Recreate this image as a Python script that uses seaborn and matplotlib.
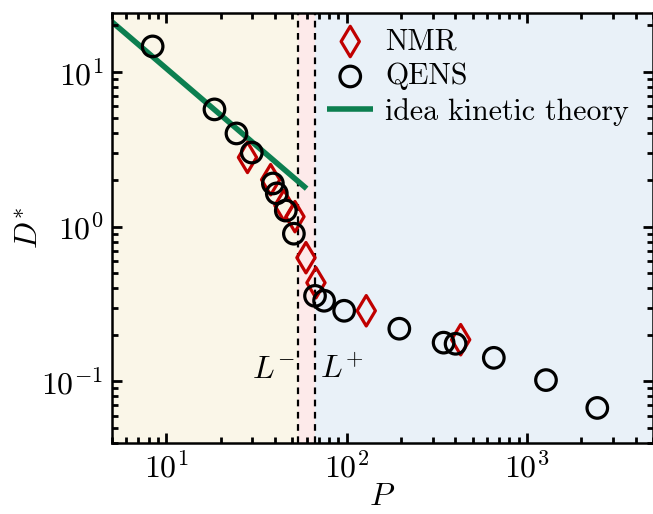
import numpy as np
import pandas as pd
import matplotlib
matplotlib.use("Agg")
import matplotlib.pyplot as plt
import seaborn as sns

# ---- data ----
qens_P = [8.4, 18.5, 24.5, 29.8, 39.0, 41.0, 46.0, 51.0, 66.8, 75.0, 96.9,
          196, 345, 402, 655, 1275, 2455]
qens_D = [14.6, 5.72, 4.0, 3.01, 1.90, 1.64, 1.27, 0.90, 0.357, 0.332, 0.286,
          0.219, 0.178, 0.175, 0.142, 0.102, 0.0674]

nmr_P = [28.2, 37.9, 44.9, 51.7, 59.5, 67.6, 128.5, 429]
nmr_D = [2.80, 2.01, 1.37, 1.16, 0.63, 0.434, 0.286, 0.186]

theory_P = [4.8, 60.0]
theory_D = [21.9, 1.76]

L_minus = 54.0
L_plus = 67.0

x_limits = (5, 5000)
y_limits = (0.04, 24)

# ---- style ----
sns.set_style("ticks")
plt.rcParams["font.family"] = ["serif"]
plt.rcParams["font.serif"] = ["cmr10", "DejaVu Serif"]
plt.rcParams["mathtext.fontset"] = "cm"
plt.rcParams["axes.formatter.use_mathtext"] = True
plt.rcParams["axes.unicode_minus"] = False
for key in ["text.color", "axes.labelcolor", "xtick.color", "ytick.color", "axes.edgecolor"]:
    plt.rcParams[key] = "black"

fig = plt.figure(figsize=(6.53, 5.14), dpi=100)
ax = fig.add_axes([112 / 653, 1 - 443 / 514, (653 - 112) / 653, (443 - 13) / 514])
ax.set_axisbelow(False)

red = "#c00000"
green = "#0c7f50"

nmr = pd.DataFrame({"P": nmr_P, "D": nmr_D})
qens = pd.DataFrame({"P": qens_P, "D": qens_D})
theory = pd.DataFrame({"P": theory_P, "D": theory_D})

ax.set_xscale("log")
ax.set_yscale("log")

sns.scatterplot(data=nmr, x="P", y="D", ax=ax, marker="d", s=15.5 ** 2,
                facecolors="none", edgecolor=red, linewidth=2.3, label="NMR", zorder=3)
sns.scatterplot(data=qens, x="P", y="D", ax=ax, marker="o", s=14.8 ** 2,
                facecolors="none", edgecolor="black", linewidth=2.3, label="QENS", zorder=4)
sns.lineplot(data=theory, x="P", y="D", ax=ax, color=green, lw=4,
             solid_capstyle="butt", label="idea kinetic theory", zorder=2)

for coll in ax.collections:
    coll.set_facecolor("none")

ax.set_xlim(*x_limits)
ax.set_ylim(*y_limits)

# background regions
ax.axvspan(x_limits[0], L_minus, color="#faf6e8", zorder=-2, lw=0)
ax.axvspan(L_minus, L_plus, color="#fdeaea", zorder=-2, lw=0)
ax.axvspan(L_plus, x_limits[1], color="#e9f1f8", zorder=-2, lw=0)
ax.axvline(L_minus, color="black", ls=(0, (3, 2.5)), lw=1.6, zorder=1)
ax.axvline(L_plus, color="black", ls=(0, (3, 2.5)), lw=1.6, zorder=1)

ax.text(51.5, 0.105, r"$L^{-}$", ha="right", va="baseline", fontsize=23)
ax.text(71.5, 0.105, r"$L^{+}$", ha="left", va="baseline", fontsize=23)

ax.set_xlabel(r"$P$", fontsize=23, labelpad=0)
ax.set_ylabel(r"$D^{*}$", fontsize=23, labelpad=-2)

for s in ax.spines.values():
    s.set_linewidth(1.8)
    s.set_visible(True)

ax.xaxis.set_minor_locator(matplotlib.ticker.LogLocator(base=10, subs=np.arange(2, 10), numticks=20))
ax.yaxis.set_minor_locator(matplotlib.ticker.LogLocator(base=10, subs=np.arange(2, 10), numticks=20))
ax.xaxis.set_minor_formatter(matplotlib.ticker.NullFormatter())
ax.yaxis.set_minor_formatter(matplotlib.ticker.NullFormatter())

leg = ax.legend(loc="upper left", bbox_to_anchor=(0.37, 1.0), frameon=False,
                fontsize=21.5, handlelength=1.55, handletextpad=0.4, labelspacing=0.25,
                borderaxespad=0.1)

ax.tick_params(which="both", direction="in", top=True, right=True, bottom=True, left=True,
               color="black")
ax.tick_params(which="major", length=7, width=2.0, labelsize=23, pad=6)
ax.tick_params(which="minor", length=4, width=2.0)

fig.savefig("out.png", dpi=100)
